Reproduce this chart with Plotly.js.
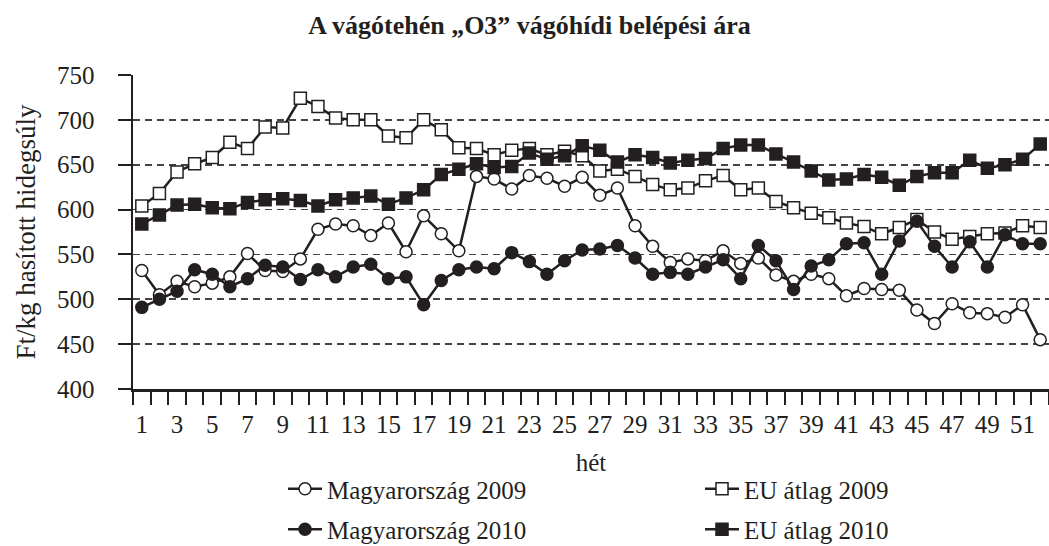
<!DOCTYPE html>
<html>
<head>
<meta charset="utf-8">
<script src="https://cdn.plot.ly/plotly-3.0.1.min.js"></script>
<style>
  html, body { margin: 0; padding: 0; background: #ffffff; }
  #chart { width: 1049px; height: 546px; }
</style>
</head>
<body>
<div id="chart"></div>
<script>
// ---- data ----
const weeks = Array.from({length: 52}, (_, i) => i + 1);
const weekLabelVals = [1,3,5,7,9,11,13,15,17,19,21,23,25,27,29,31,33,35,37,39,41,43,45,47,49,51];
const weekLabelText = ['1','3','5','7','9','11','13','15','17','19','21','23','25','27','29','31','33','35','37','39','41','43','45','47','49','51'];
const yTickVals = [400,450,500,550,600,650,700,750];

const seriesNames = ['Magyarország 2009', 'EU átlag 2009', 'Magyarország 2010', 'EU átlag 2010'];

const hu2009 = [532,505,520,514,518,525,551,532,531,545,578,584,582,571,585,553,593,573,554,637,
                634,623,638,635,626,636,616,624,582,559,541,545,543,554,540,546,527,520,528,523,
                504,512,511,510,488,473,495,485,484,480,494,455];
const eu2009 = [604,618,642,651,658,675,668,692,691,724,715,702,700,700,682,680,700,689,669,668,
                661,666,668,661,665,660,643,645,637,628,622,624,632,638,622,624,609,602,596,591,
                585,581,573,580,589,575,567,570,573,574,582,580];
const hu2010 = [491,500,509,533,528,514,523,538,536,522,533,525,536,539,523,525,494,521,533,536,
                534,552,542,528,543,555,556,560,546,528,530,528,536,544,523,560,543,511,537,544,
                562,563,528,565,587,559,536,564,536,572,562,562];
const eu2010 = [584,594,605,606,602,601,608,611,612,610,604,611,613,615,606,613,622,639,645,651,
                647,648,663,656,660,671,666,653,661,658,652,655,657,668,672,672,662,653,643,633,
                634,639,636,627,637,641,641,655,646,650,656,673];

const INK = '#231f20';
const FONT = 'Liberation Serif, Times New Roman, serif';

// plot area in pixels (used only to convert legend positions to paper units)
const PL = 133, PW = 916, PT = 75, PH = 314;
const px2x = p => (p - PL) / PW;
const px2y = p => 1 - (p - PT) / PH;

function mk(name, y, symbol, fill, legendId, group) {
  return {
    type: 'scatter', mode: 'lines+markers', name: name, x: weeks, y: y,
    legend: legendId, legendgroup: group, cliponaxis: false,
    line: {color: INK, width: 2.5},
    marker: {symbol: symbol, size: 12, color: fill, line: {color: INK, width: 1.5}}
  };
}

const traces = [
  mk(seriesNames[0], hu2009, 'circle', '#ffffff', 'legend', 'a'),
  mk(seriesNames[1], eu2009, 'square', '#ffffff', 'legend2', 'b'),
  mk(seriesNames[2], hu2010, 'circle', INK, 'legend', 'c'),
  mk(seriesNames[3], eu2010, 'square', INK, 'legend2', 'd')
];

const legendCommon = {
  orientation: 'v', xref: 'paper', yref: 'paper', yanchor: 'top', xanchor: 'left',
  y: px2y(466), bgcolor: 'rgba(0,0,0,0)', borderwidth: 0,
  font: {family: FONT, size: 25, color: INK}, itemwidth: 34, tracegroupgap: 5
};

const layout = {
  width: 1049, height: 546,
  margin: {l: PL, r: 1049 - PL - PW, t: PT, b: 546 - PT - PH, pad: 0, autoexpand: false},
  paper_bgcolor: '#ffffff', plot_bgcolor: '#ffffff',
  font: {family: FONT, size: 25, color: INK},
  showlegend: true,
  title: {
    text: 'A vágótehén „O3” vágóhídi belépési ára',
    font: {family: FONT, size: 26, weight: 'bold', color: INK},
    xref: 'paper', x: px2x(529.5), xanchor: 'center',
    yref: 'container', y: 1 - 25/546, yanchor: 'middle'
  },
  xaxis: {
    range: [0.5, 52.5], tickmode: 'array', tickvals: weekLabelVals, ticktext: weekLabelText,
    ticks: '', showgrid: false, zeroline: false, automargin: false, tickangle: 0,
    showline: true, linecolor: INK, linewidth: 2.5,
    tickfont: {family: FONT, size: 25, color: INK}, ticklabelstandoff: 11,
    minor: {tickmode: 'linear', tick0: 0.5, dtick: 1, ticks: 'outside', ticklen: 13,
            tickwidth: 2, tickcolor: INK, showgrid: false},
    title: {text: 'hét', font: {family: FONT, size: 25, color: INK}, standoff: 17}
  },
  yaxis: {
    range: [400, 750], tickmode: 'array', tickvals: yTickVals, automargin: false,
    ticks: 'outside', ticklen: 13, tickwidth: 2, tickcolor: INK,
    showline: true, linecolor: INK, linewidth: 2.5,
    showgrid: true, gridcolor: '#444444', gridwidth: 1.7, griddash: '7px,5px',
    zeroline: false, ticklabelstandoff: 18,
    tickfont: {family: FONT, size: 25, color: INK},
    title: {text: 'Ft/kg hasított hidegsúly', font: {family: FONT, size: 27, color: INK}, standoff: 14}
  },
  legend: Object.assign({}, legendCommon, {x: px2x(283)}),
  legend2: Object.assign({}, legendCommon, {x: px2x(700)})
};

Plotly.newPlot('chart', traces, layout, {displayModeBar: false, staticPlot: true});
</script>
</body>
</html>
